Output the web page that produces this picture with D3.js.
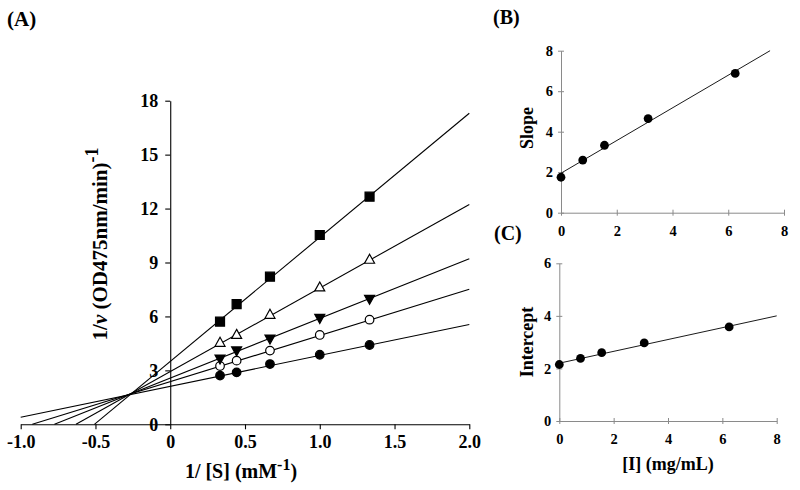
<!DOCTYPE html>
<html><head><meta charset="utf-8">
<script src="https://cdn.jsdelivr.net/npm/d3@7"></script>
<style>
body{margin:0;background:#fff;}
svg{display:block;font-family:'Liberation Serif','Times New Roman',serif;font-weight:bold;}
</style></head>
<body><svg id="chart" width="800" height="490"></svg>
<script>
// ---------- Data ----------
// Panel A: Lineweaver-Burk
const invSubstrate = [0.333, 0.444, 0.667, 1.0, 1.333];
const seriesFilledCircle = [2.71, 2.89, 3.35, 3.87, 4.41];
const seriesOpenCircle = [3.24, 3.54, 4.10, 4.97, 5.82];
const seriesFilledTriDown = [3.63, 4.08, 4.74, 5.89, 6.95];
const seriesOpenTriUp = [4.56, 5.00, 6.12, 7.64, 9.18];
const seriesFilledSquare = [5.71, 6.69, 8.21, 10.53, 12.66];
const fitSlopes = [1.72, 2.57, 3.32, 4.65, 6.90];
const fitIntercepts = [2.11, 2.37, 2.57, 2.93, 3.50];
const xTicksA = [-1.0, -0.5, 0, 0.5, 1.0, 1.5, 2.0];
const xTickLabelsA = ["-1.0", "-0.5", "0", "0.5", "1.0", "1.5", "2.0"];
const yTicksA = [0, 3, 6, 9, 12, 15, 18];
// Panels B and C: secondary plots
const inhibitor = [0, 0.78, 1.56, 3.125, 6.25];
const slopeValues = [1.75, 2.60, 3.33, 4.65, 6.88];
const interceptValues = [2.15, 2.38, 2.60, 2.97, 3.58];
const slopeFitX = [0, 7.5];
const slopeFitY = [1.95, 8.0];
const interceptFitX = [0, 8];
const interceptFitY = [2.2, 4.0];
const xTicksBC = [0, 2, 4, 6, 8];
const yTicksB = [0, 2, 4, 6, 8];
const yTicksC = [0, 2, 4, 6];

const FONT = "'Liberation Serif','Times New Roman',serif";
const svg = d3.select("#chart");

// ---------- Panel A ----------
const xA = d3.scaleLinear().domain([-1, 2]).range([20.7, 469.3]);
const yA = d3.scaleLinear().domain([0, 18]).range([424.3, 100.7]);
const gA = svg.append("g");

const axA_x = gA.append("g").attr("transform", `translate(0,${yA(0)})`)
  .call(d3.axisBottom(xA).tickValues(xTicksA).tickFormat((d,i)=>xTickLabelsA[i]).tickSize(5).tickSizeOuter(0).tickPadding(6));
const axA_y = gA.append("g").attr("transform", `translate(${xA(0)},0)`)
  .call(d3.axisLeft(yA).tickValues(yTicksA).tickFormat(d3.format("d")).tickSize(5).tickSizeOuter(0).tickPadding(7));
[axA_x, axA_y].forEach(a=>{
  a.selectAll("path,line").attr("stroke","#000").attr("stroke-width",1.1);
  a.selectAll("text").attr("font-size",18).attr("font-family",FONT).attr("font-weight","bold").attr("fill","#000");
});

// fit lines
fitSlopes.forEach((m,i)=>{
  const b = fitIntercepts[i];
  const x0 = Math.max(-1, -b/m);
  const x1 = 2;
  gA.append("line")
    .attr("x1", xA(x0)).attr("y1", yA(b + m*x0))
    .attr("x2", xA(x1)).attr("y2", yA(b + m*x1))
    .attr("stroke","#000").attr("stroke-width",1.1);
});

const seriesA = [
  {vals: seriesFilledCircle, shape:"circle", fill:"#000"},
  {vals: seriesOpenCircle, shape:"circle", fill:"#fff"},
  {vals: seriesFilledTriDown, shape:"tridown", fill:"#000"},
  {vals: seriesOpenTriUp, shape:"triup", fill:"#fff"},
  {vals: seriesFilledSquare, shape:"square", fill:"#000"}
];
function markerPath(shape){
  if(shape==="square") return "M-4.5,-4.5h9v9h-9z";
  if(shape==="triup") return "M0,-5L5,4L-5,4Z";
  if(shape==="tridown") return "M-5,-4L5,-4L0,5Z";
  return null;
}
seriesA.forEach(s=>{
  const g = gA.append("g");
  s.vals.forEach((v,j)=>{
    const cx = xA(invSubstrate[j]), cy = yA(v);
    if(s.shape==="circle"){
      g.append("circle").attr("cx",cx).attr("cy",cy).attr("r",4.3)
        .attr("fill",s.fill).attr("stroke","#000").attr("stroke-width",1.2);
    } else {
      g.append("path").attr("d",markerPath(s.shape)).attr("transform",`translate(${cx},${cy})`)
        .attr("fill",s.fill).attr("stroke","#000").attr("stroke-width",1.2);
    }
  });
});

// titles A
gA.append("text").attr("x",7).attr("y",26).attr("font-size",21).text("(A)");
const xt = gA.append("text").attr("x",241).attr("y",478).attr("text-anchor","middle").attr("font-size",20);
xt.append("tspan").text("1/ [S] (mM");
xt.append("tspan").attr("font-size",16).attr("dy",-8).text("-1");
xt.append("tspan").attr("dy",8).text(")");
const yt = gA.append("text").attr("transform","translate(107,244) rotate(-90)").attr("text-anchor","middle").attr("font-size",21);
yt.append("tspan").text("1/");
yt.append("tspan").attr("font-style","italic").text("v");
yt.append("tspan").text(" (OD475nm/min)");
yt.append("tspan").attr("font-size",18).attr("dy",-9).text("-1");

// ---------- Panels B & C ----------
function smallPanel(xs, ys, xVals, yVals, fitX, fitY, yTicks, label, labelPos, ylab, ylabPos, xlab){
  const g = svg.append("g");
  const ax = g.append("g").attr("transform",`translate(0,${ys.range()[0]})`)
    .call(d3.axisBottom(xs).tickValues(xTicksBC).tickFormat(d3.format("d")).tickSize(3).tickSizeOuter(0).tickPadding(10));
  const ay = g.append("g").attr("transform",`translate(${xs(0)},0)`)
    .call(d3.axisLeft(ys).tickValues(yTicks).tickFormat(d3.format("d")).tickSize(3).tickSizeOuter(0).tickPadding(5));
  [ax, ay].forEach(a=>{
    a.selectAll("path,line").attr("stroke","#8a8a8a").attr("stroke-width",1);
    a.selectAll("text").attr("font-size",14.5).attr("font-family",FONT).attr("font-weight","bold").attr("fill","#000");
  });
  ax.selectAll(".tick line").attr("y1",-3).attr("y2",3);
  ay.selectAll(".tick line").attr("x1",3).attr("x2",-3);
  g.append("line").attr("x1",xs(fitX[0])).attr("y1",ys(fitY[0]))
    .attr("x2",xs(fitX[1])).attr("y2",ys(fitY[1])).attr("stroke","#000").attr("stroke-width",0.9);
  xVals.forEach((x,i)=>{
    g.append("circle").attr("cx",xs(x)).attr("cy",ys(yVals[i])).attr("r",4.4).attr("fill","#000");
  });
  g.append("text").attr("x",labelPos[0]).attr("y",labelPos[1]).attr("font-size",20).text(label);
  g.append("text").attr("transform",`translate(${ylabPos[0]},${ylabPos[1]}) rotate(-90)`)
    .attr("text-anchor","middle").attr("font-size",18).text(ylab);
  if(xlab){
    g.append("text").attr("x",xlab[1]).attr("y",xlab[2]).attr("text-anchor","middle").attr("font-size",18).text(xlab[0]);
  }
}
const xB = d3.scaleLinear().domain([0,8]).range([561,784]);
const yB = d3.scaleLinear().domain([0,8]).range([212.7,50.7]);
smallPanel(xB, yB, inhibitor, slopeValues, slopeFitX, slopeFitY, yTicksB, "(B)", [493,24], "Slope", [533,128], null);
const xC = d3.scaleLinear().domain([0,8]).range([559.3,776.7]);
const yC = d3.scaleLinear().domain([0,6]).range([421,263.3]);
smallPanel(xC, yC, inhibitor, interceptValues, interceptFitX, interceptFitY, yTicksC, "(C)", [494,240], "Intercept", [533,342], ["[I] (mg/mL)", 668, 470]);
</script></body></html>
